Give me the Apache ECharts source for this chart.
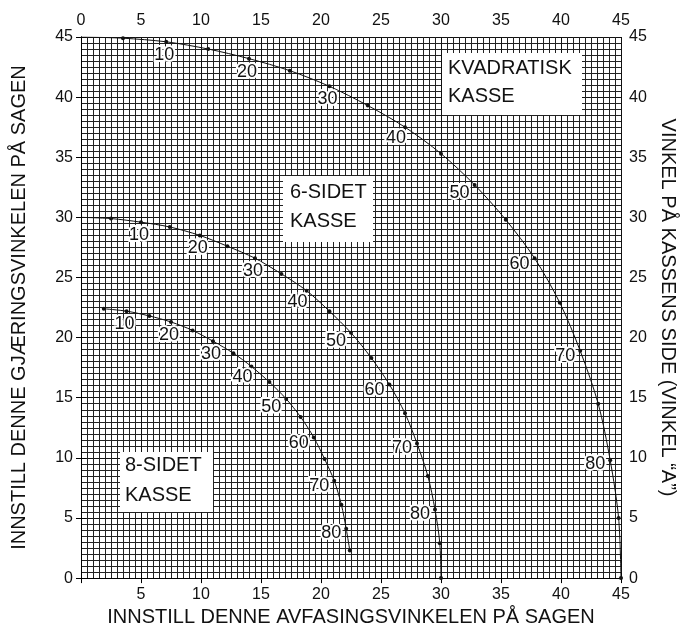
<!DOCTYPE html>
<html>
<head>
<meta charset="utf-8">
<script src="https://cdn.jsdelivr.net/npm/echarts@6/dist/echarts.min.js"></script>
<style>
  html, body { margin: 0; padding: 0; background: #fff; }
  #chart { width: 686px; height: 632px; }
</style>
</head>
<body>
<div id="chart"></div>
<script>
// vinkel "A" på kassens side for hvert punkt
var sideAngles = [0, 5, 10, 15, 20, 25, 30, 35, 40, 45, 50, 55, 60, 65, 70, 75, 80, 85, 90];
var octAngles = [5, 10, 15, 20, 25, 30, 35, 40, 45, 50, 55, 60, 65, 70, 75, 80, 85];

// kvadratisk kasse
var squareBevel = [0, 3.5, 7.1, 10.6, 14.0, 17.4, 20.7, 23.9, 27.0, 30.0, 32.8, 35.4, 37.8, 39.9, 41.6, 43.1, 44.1, 44.8, 45];
var squareMiter = [45, 44.9, 44.6, 44.0, 43.2, 42.2, 40.9, 39.3, 37.5, 35.3, 32.7, 29.8, 26.6, 22.9, 18.9, 14.5, 9.8, 5.0, 0];

// 6-sidet kasse
var hexBevel = [0, 2.5, 5.0, 7.4, 9.9, 12.2, 14.5, 16.7, 18.8, 20.7, 22.5, 24.2, 25.7, 27.0, 28.0, 28.9, 29.5, 29.9, 30];
var hexMiter = [30, 29.9, 29.6, 29.2, 28.5, 27.6, 26.6, 25.3, 23.9, 22.2, 20.4, 18.3, 16.1, 13.7, 11.2, 8.5, 5.7, 2.9, 0];

// 8-sidet kasse
var octBevel = [1.9, 3.8, 5.7, 7.5, 9.3, 11.0, 12.7, 14.2, 15.7, 17.1, 18.3, 19.4, 20.3, 21.1, 21.7, 22.1, 22.4];
var octMiter = [22.4, 22.2, 21.8, 21.3, 20.6, 19.7, 18.7, 17.6, 16.3, 14.9, 13.4, 11.7, 9.9, 8.1, 6.1, 4.1, 2.3];

var FONT = '"Liberation Sans", Arial, Helvetica, sans-serif';

function pointLabel(a) {
    if (a % 10 !== 0 || a < 10 || a > 80) return { show: false };
    var base = {
        show: true,
        formatter: String(a),
        fontFamily: FONT,
        fontSize: 18,
        color: '#111',
        textBorderColor: '#fff',
        textBorderWidth: 4
    };
    if (a <= 30) {
        base.position = 'bottom'; base.distance = 2; base.offset = [-2, 0];
    } else if (a === 40) {
        base.position = 'bottom'; base.distance = 0; base.offset = [-9, 0];
    } else {
        var dy = { 50: 8, 60: 6, 70: 5, 80: 4 };
        base.position = 'left'; base.distance = 3; base.offset = [0, dy[a]];
    }
    return base;
}

function buildData(bevel, miter, angles) {
    return bevel.map(function (b, i) {
        var a = angles[i];
        return {
            value: [b, miter[i]],
            symbolSize: a === 0 ? 0 : 4,
            label: pointLabel(a)
        };
    });
}

function curve(name, bevel, miter, angles) {
    return {
        name: name,
        type: 'line',
        smooth: 0.3,
        symbol: 'circle',
        showAllSymbol: true,
        lineStyle: { color: '#111', width: 1 },
        itemStyle: { color: '#111' },
        emphasis: { disabled: true },
        data: buildData(bevel, miter, angles)
    };
}

function valueAxis(extra) {
    var ax = {
        type: 'value',
        min: 0,
        max: 45,
        interval: 5,
        axisLine: { show: true, lineStyle: { color: '#000', width: 1 } },
        axisTick: { show: true, inside: false, length: 5, lineStyle: { color: '#000' } },
        axisLabel: { color: '#111', fontFamily: FONT, fontSize: 16, margin: 8 },
        splitLine: { show: false },
        nameTextStyle: { color: '#111', fontFamily: FONT, fontSize: 20 }
    };
    for (var k in extra) ax[k] = extra[k];
    return ax;
}

var gridLines = {
    minorTick: { show: true, splitNumber: 10, length: 0, lineStyle: { color: 'transparent' } },
    minorSplitLine: { show: true, lineStyle: { color: '#222', width: 1 } },
    splitLine: { show: true, lineStyle: { color: '#111', width: 1 } }
};

function boxText(x, y, txt) {
    return {
        type: 'text', z: 11, left: x, top: y,
        style: { text: txt, fill: '#111', font: '20px ' + FONT }
    };
}

var chart = echarts.init(document.getElementById('chart'));
chart.setOption({
    backgroundColor: '#fff',
    animation: false,
    grid: { left: 81, right: 59, top: 37, bottom: 49, containLabel: false },
    xAxis: [
        valueAxis({
            position: 'bottom',
            name: 'INNSTILL DENNE AVFASINGSVINKELEN PÅ SAGEN',
            nameLocation: 'middle', nameGap: 27,
            axisLabel: { color: '#111', fontFamily: FONT, fontSize: 16, margin: 8, showMinLabel: false },
            minorTick: gridLines.minorTick,
            minorSplitLine: gridLines.minorSplitLine,
            splitLine: gridLines.splitLine
        }),
        valueAxis({ position: 'top' })
    ],
    yAxis: [
        valueAxis({
            position: 'left',
            name: 'INNSTILL DENNE GJÆRINGSVINKELEN PÅ SAGEN',
            nameLocation: 'middle', nameRotate: 90, nameGap: 52,
            minorTick: gridLines.minorTick,
            minorSplitLine: gridLines.minorSplitLine,
            splitLine: gridLines.splitLine
        }),
        valueAxis({
            position: 'right',
            name: 'VINKEL PÅ KASSENS SIDE (VINKEL “A”)',
            nameLocation: 'middle', nameRotate: -90, nameGap: 37
        })
    ],
    graphic: [
        { type: 'rect', z: 10, shape: { x: 442, y: 53, width: 140, height: 62 }, style: { fill: '#fff' } },
        boxText(448, 58, 'KVADRATISK'),
        boxText(448, 86, 'KASSE'),
        { type: 'rect', z: 10, shape: { x: 283, y: 176, width: 90, height: 66 }, style: { fill: '#fff' } },
        boxText(290, 182, '6-SIDET'),
        boxText(290, 211, 'KASSE'),
        { type: 'rect', z: 10, shape: { x: 120, y: 452, width: 93, height: 60 }, style: { fill: '#fff' } },
        boxText(125, 455, '8-SIDET'),
        boxText(125, 485, 'KASSE')
    ],
    series: [
        curve('Kvadratisk kasse', squareBevel, squareMiter, sideAngles),
        curve('6-sidet kasse', hexBevel, hexMiter, sideAngles),
        curve('8-sidet kasse', octBevel, octMiter, octAngles)
    ]
});
</script>
</body>
</html>
